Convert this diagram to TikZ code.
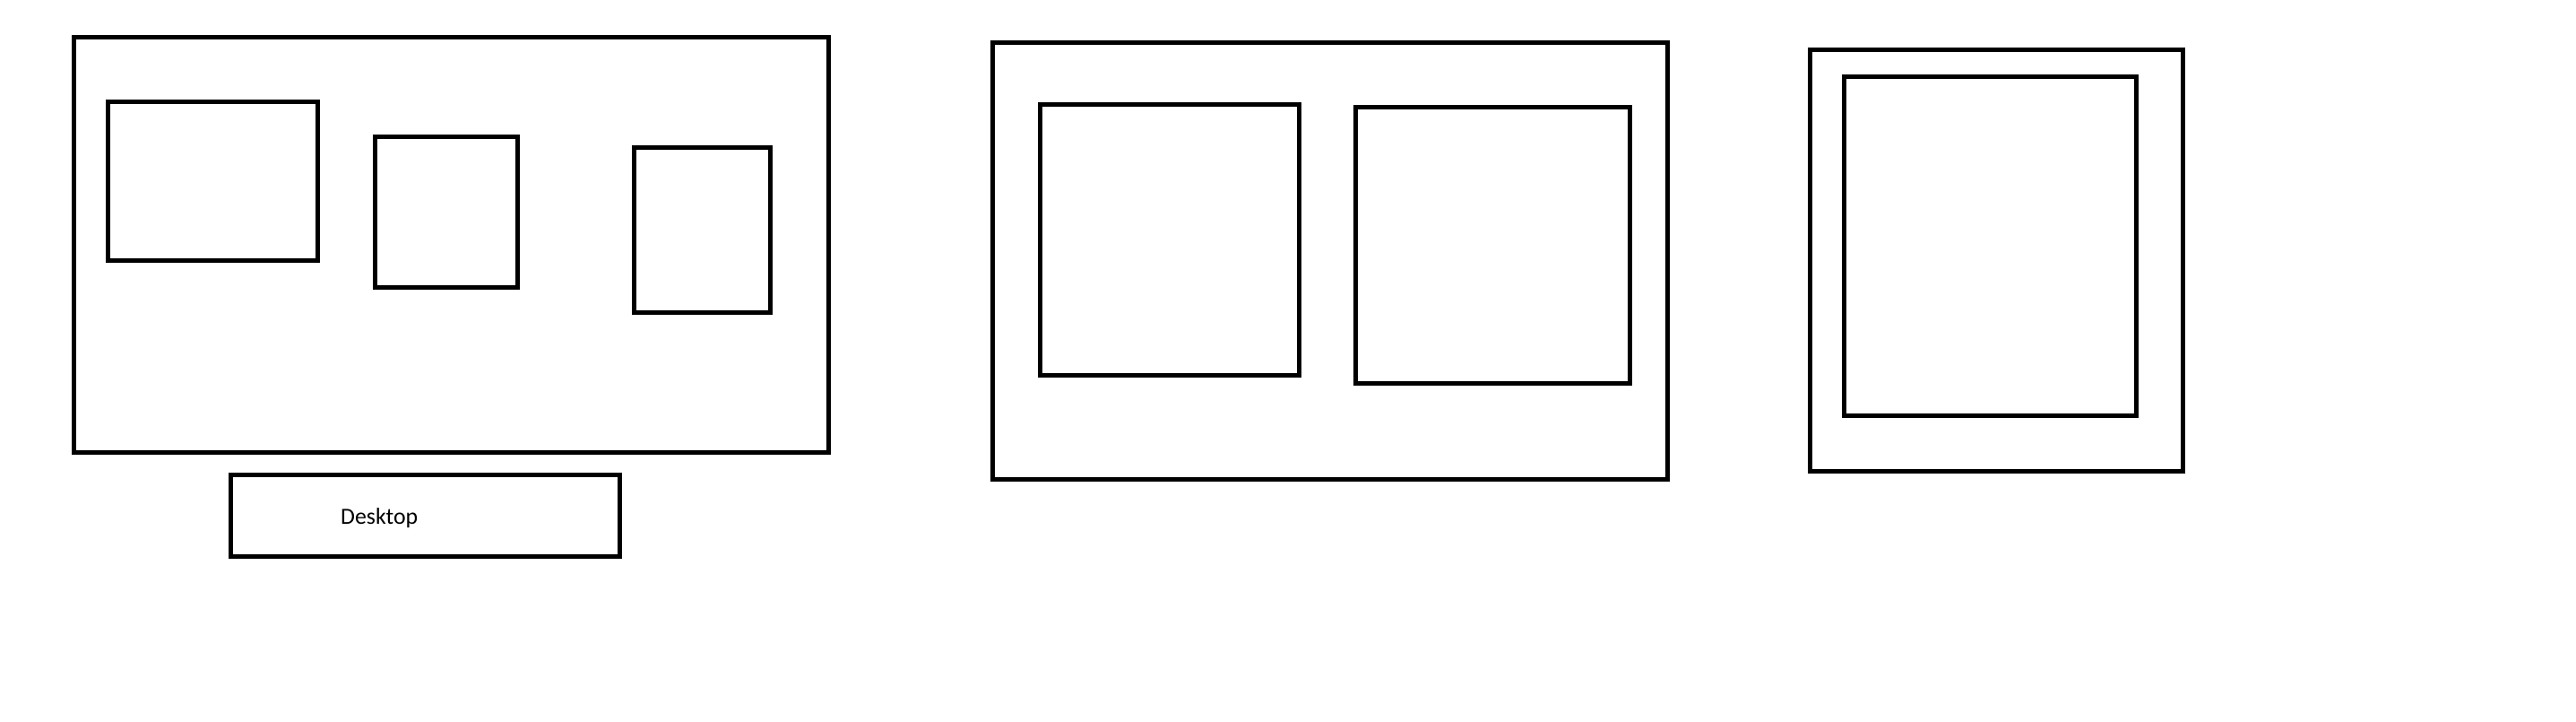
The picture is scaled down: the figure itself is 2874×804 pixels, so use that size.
\documentclass[tikz,border=0pt]{standalone}
\usepackage{fontspec}
\setmainfont{Carlito}
\begin{document}
\begin{tikzpicture}[x=1pt,y=-1pt,
  box/.style={draw=black,line width=5pt,rectangle,inner sep=0pt,outer sep=0pt,anchor=north west},
  lbl/.style={font=\fontsize{25.8pt}{30pt}\selectfont,inner sep=0pt,anchor=base west}]
\useasboundingbox[fill=white] (0,0) rectangle (2874,804);
% monitor / desktop
\node[box,minimum width=842pt,minimum height=463pt] (screen) at (82.5,41.5) {};
\node[box,minimum width=234pt,minimum height=177pt] (wina) at (120,113) {};
\node[box,minimum width=159pt,minimum height=168pt] (winb) at (418,152) {};
\node[box,minimum width=152pt,minimum height=184pt] (winc) at (707.5,164) {};
\node[box,minimum width=434pt,minimum height=91pt] (deskbar) at (257,529.5) {};
\node[lbl] (desklbl) at (380,584.3) {Desktop};
% tablet
\node[box,minimum width=753pt,minimum height=487pt] (tablet) at (1107.5,47.5) {};
\node[box,minimum width=289pt,minimum height=302pt] (tabl) at (1160,116) {};
\node[box,minimum width=306pt,minimum height=308pt] (tabr) at (1512.5,119) {};
% phone
\node[box,minimum width=416pt,minimum height=470pt] (phone) at (2019.5,55.5) {};
\node[box,minimum width=326pt,minimum height=378pt] (phonein) at (2057.5,85.5) {};
\end{tikzpicture}
\end{document}
